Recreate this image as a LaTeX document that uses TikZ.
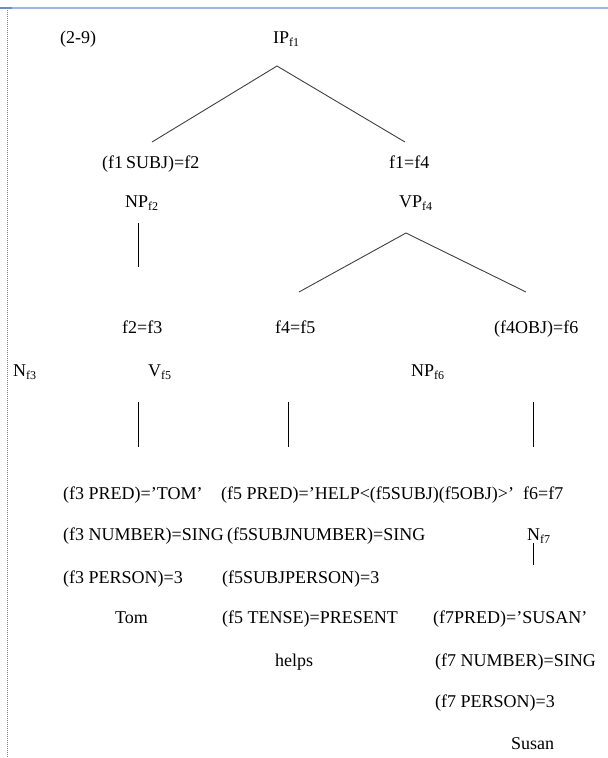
\documentclass[tikz,border=0pt]{standalone}
\usepackage{fontspec}
\setmainfont{Liberation Serif}
\newcommand{\fsub}[1]{\raisebox{-3.5pt}{\fontsize{12}{12}\selectfont #1}}
\begin{document}
\begin{tikzpicture}[x=1pt,y=-1pt,
  lbl/.style={anchor=base west, inner sep=0pt, font=\fontsize{18}{20}\selectfont},
  branch/.style={draw=black!75, line width=0.9pt},
  stem/.style={draw=black, line width=1pt}]
\useasboundingbox (0,0) rectangle (608,758);

% page frame: header rule and dotted margin
\draw[color={rgb,255:red,156;green,184;blue,224}, line width=2.2pt] (0,8) -- (608,8);
\draw[color={rgb,255:red,110;green,140;blue,190}, line width=2.2pt] (0,8) -- (12,8);
\draw[gray, densely dotted, line width=1pt] (7.5,10) -- (7.5,758);

% labels
\node[lbl] (ex)   at (60,43)  {(2-9)};
\node[lbl] (ip)   at (273,43) {IP\fsub{f1}};
\node[lbl] (subj) at (102,168) {(f1\,SUBJ)=f2};
\node[lbl] (f14)  at (389,168) {f1=f4};
\node[lbl] (np2)  at (125,207) {NP\fsub{f2}};
\node[lbl] (vp4)  at (399,207) {VP\fsub{f4}};
\node[lbl] (f23)  at (122,333) {f2=f3};
\node[lbl] (f45)  at (275,333) {f4=f5};
\node[lbl] (obj)  at (494,333) {(f4OBJ)=f6};
\node[lbl] (n3)   at (13,376)  {N\fsub{f3}};
\node[lbl] (v5)   at (148,376) {V\fsub{f5}};
\node[lbl] (np6)  at (411,376) {NP\fsub{f6}};

\node[lbl] (tpred) at (63,499)  {(f3 PRED)=’TOM’};
\node[lbl] (hpred) at (221,499) {(f5 PRED)=’HELP<(f5SUBJ)(f5OBJ)>’};
\node[lbl] (f67)   at (523,499) {f6=f7};
\node[lbl] (tnum)  at (63,540)  {(f3 NUMBER)=SING};
\node[lbl] (hnum)  at (227,540) {(f5SUBJNUMBER)=SING};
\node[lbl] (n7)    at (527,540) {N\fsub{f7}};
\node[lbl] (tper)  at (63,583)  {(f3 PERSON)=3};
\node[lbl] (hper)  at (222,583) {(f5SUBJPERSON)=3};
\node[lbl] (tom)   at (115,623) {Tom};
\node[lbl] (hten)  at (222,623) {(f5 TENSE)=PRESENT};
\node[lbl] (spred) at (433,623) {(f7PRED)=’SUSAN’};
\node[lbl] (helps) at (275,666) {helps};
\node[lbl] (snum)  at (435,666) {(f7 NUMBER)=SING};
\node[lbl] (sper)  at (435,707) {(f7 PERSON)=3};
\node[lbl] (susan) at (511,749) {Susan};

% branch end points
\coordinate (ipApex) at (277,66);
\coordinate (ipL)    at (152,142);
\coordinate (ipR)    at (405,142);
\coordinate (npTop)  at (138,223);
\coordinate (npBot)  at (138,267);
\coordinate (vpApex) at (406,233);
\coordinate (vpL)    at (299,292);
\coordinate (vpR)    at (526,292);
\coordinate (aTop) at (138,402);
\coordinate (aBot) at (138,447);
\coordinate (bTop) at (288,402);
\coordinate (bBot) at (288,447);
\coordinate (cTop) at (533,402);
\coordinate (cBot) at (533,447);
\coordinate (nTop) at (533,543);
\coordinate (nBot) at (533,565);

% tree branches
\draw[branch] (ipL) -- (ipApex) -- (ipR);
\draw[branch] (vpL) -- (vpApex) -- (vpR);
\draw[stem] (npTop) -- (npBot);
\draw[stem] (aTop) -- (aBot);
\draw[stem] (bTop) -- (bBot);
\draw[stem] (cTop) -- (cBot);
\draw[stem] (nTop) -- (nBot);
\end{tikzpicture}
\end{document}
